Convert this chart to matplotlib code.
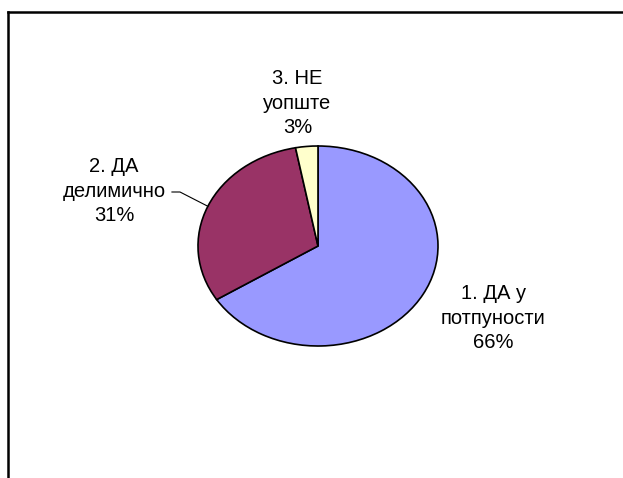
import numpy as np
import matplotlib.pyplot as plt
from matplotlib.lines import Line2D

# Podaci
labels = ['1. ДА у\nпотпуности\n66%', '2. ДА\nделимично\n31%', '3. НЕ\nуопште\n3%']
values = [66, 31, 3]
colors = ['#9999FF', '#993366', '#FFFFCC']
# polozaj natpisa (u jedinicama poluprecnika)
label_pos = [(1.46, -0.72), (-1.70, 0.55), (-0.17, 1.43)]

W, H = 623, 478
fig = plt.figure(figsize=(W / 100, H / 100), dpi=100)

# okvir (samo gornja i leva ivica su vidljive)
fig.add_artist(Line2D([8 / W, 1.0], [1 - 12 / H, 1 - 12 / H], color='black', lw=1.8,
                      transform=fig.transFigure))
fig.add_artist(Line2D([8 / W, 8 / W], [0, 1 - 12 / H], color='black', lw=1.8,
                      transform=fig.transFigure))

# elipsasti pie: rx=120px, ry=100px, centar (318, 246)
cx, cy, rx, ry = 318, 246, 120, 100
ax = fig.add_axes([(cx - rx) / W, (H - cy - ry) / H, 2 * rx / W, 2 * ry / H])
wedges, _ = ax.pie(values, colors=colors, startangle=90, counterclock=False,
                   wedgeprops=dict(edgecolor='black', linewidth=1.2))
ax.set_aspect('auto')
ax.set_xlim(-1, 1)
ax.set_ylim(-1, 1)
ax.axis('off')

for lab, (lx, ly) in zip(labels, label_pos):
    ax.text(lx, ly, lab, ha='center', va='center', fontsize=14.5,
            family='Liberation Sans', linespacing=1.34, clip_on=False)

# linija do natpisa 2
w = wedges[1]
ang = np.deg2rad((w.theta1 + w.theta2) / 2)
ax.plot([-1.217, -1.15, np.cos(ang)], [0.54, 0.54, np.sin(ang)],
        color='black', lw=0.8, clip_on=False)

fig.savefig('out.png', dpi=100)
